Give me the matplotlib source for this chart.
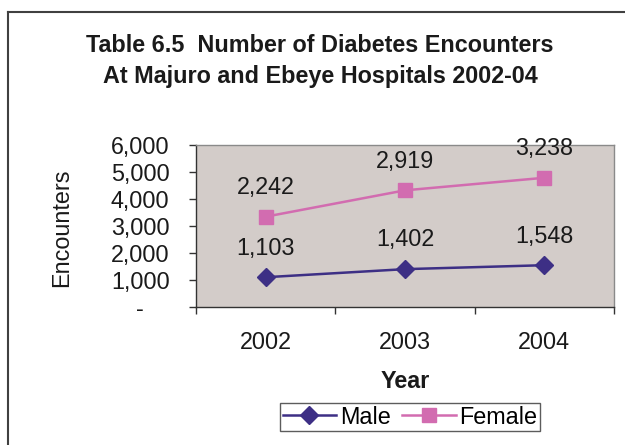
import matplotlib
matplotlib.use("Agg")
import matplotlib.pyplot as plt
from matplotlib.lines import Line2D
from matplotlib.ticker import FixedLocator

years = ["2002", "2003", "2004"]
male = [1103, 1402, 1548]
female = [2242, 2919, 3238]
yticks = [0, 1000, 2000, 3000, 4000, 5000, 6000]
ytick_labels = ["-\u00a0\u00a0\u00a0\u00a0", "1,000", "2,000", "3,000", "4,000", "5,000", "6,000"]

plt.rcParams['font.family'] = ['Liberation Sans', 'DejaVu Sans']

W, H = 625, 445
fig = plt.figure(figsize=(W / 100, H / 100), dpi=100)

def fx(px):
    return px / W

def fy(py):
    return 1 - py / H

FS = 16.8

# chart frame (top and left visible)
fig.add_artist(Line2D([fx(8), fx(8)], [fy(12), 0], transform=fig.transFigure, color="#404040", lw=1.5))
fig.add_artist(Line2D([fx(8), 1], [fy(12), fy(12)], transform=fig.transFigure, color="#404040", lw=1.5))

ax = fig.add_axes([fx(196), fy(307), fx(614) - fx(196), fy(145) - fy(307)])
ax.set_facecolor("#D3CCC9")

x = list(range(len(years)))
stacked = [m + f for m, f in zip(male, female)]

male_c = "#3D2F85"
fem_c = "#D26CB0"
ax.plot(x, male, color=male_c, lw=1.8, marker="D", ms=9, label="Male")
ax.plot(x, stacked, color=fem_c, lw=1.8, marker="s", ms=10, label="Female")

for xi, v in zip(x, male):
    ax.annotate(f"{v:,}", (xi, v), xytext=(0, 21), textcoords="offset points",
                ha="center", va="center", fontsize=FS, color="#1a1a1a")
for xi, v, s in zip(x, female, stacked):
    ax.annotate(f"{v:,}", (xi, s), xytext=(0, 21), textcoords="offset points",
                ha="center", va="center", fontsize=FS, color="#1a1a1a")

ax.set_xlim(-0.5, 2.5)
ax.set_ylim(0, 6000)
ax.set_yticks(yticks)
ax.set_yticklabels(ytick_labels, fontsize=FS, color="#1a1a1a")
ax.tick_params(axis="y", length=5, pad=14, width=1, color="#333333")
ax.set_xticks(x)
ax.set_xticklabels(years, fontsize=FS, color="#1a1a1a")
ax.tick_params(axis="x", which="major", length=0, pad=17)
ax.xaxis.set_minor_locator(FixedLocator([-0.5, 0.5, 1.5, 2.5]))
ax.tick_params(axis="x", which="minor", length=5, width=1, color="#333333")

for s in ["top", "right"]:
    ax.spines[s].set_color("#8a8a8a")
    ax.spines[s].set_linewidth(1)
for s in ["left", "bottom"]:
    ax.spines[s].set_color("#333333")
    ax.spines[s].set_linewidth(1)

fig.text(fx(320), fy(45), "Table 6.5  Number of Diabetes Encounters", ha="center", va="center",
         fontsize=FS, fontweight="bold", color="#1a1a1a")
fig.text(fx(320), fy(77), "At Majuro and Ebeye Hospitals 2002-04", ha="center", va="center",
         fontsize=FS, fontweight="bold", color="#1a1a1a")
fig.text(fx(405), fy(381), "Year", ha="center", va="center", fontsize=FS, fontweight="bold", color="#1a1a1a")
fig.text(fx(62), fy(228), "Encounters", ha="center", va="center", rotation=90, fontsize=FS, color="#1a1a1a")

leg = fig.legend(loc="center", bbox_to_anchor=(fx(410), fy(417)), ncol=2, fontsize=FS,
                 frameon=True, fancybox=False, edgecolor="#333333", handlelength=2.3,
                 handletextpad=0.15, columnspacing=0.5, borderpad=0.1, borderaxespad=0)
leg.get_frame().set_linewidth(1)

fig.savefig("out.png", dpi=100)
